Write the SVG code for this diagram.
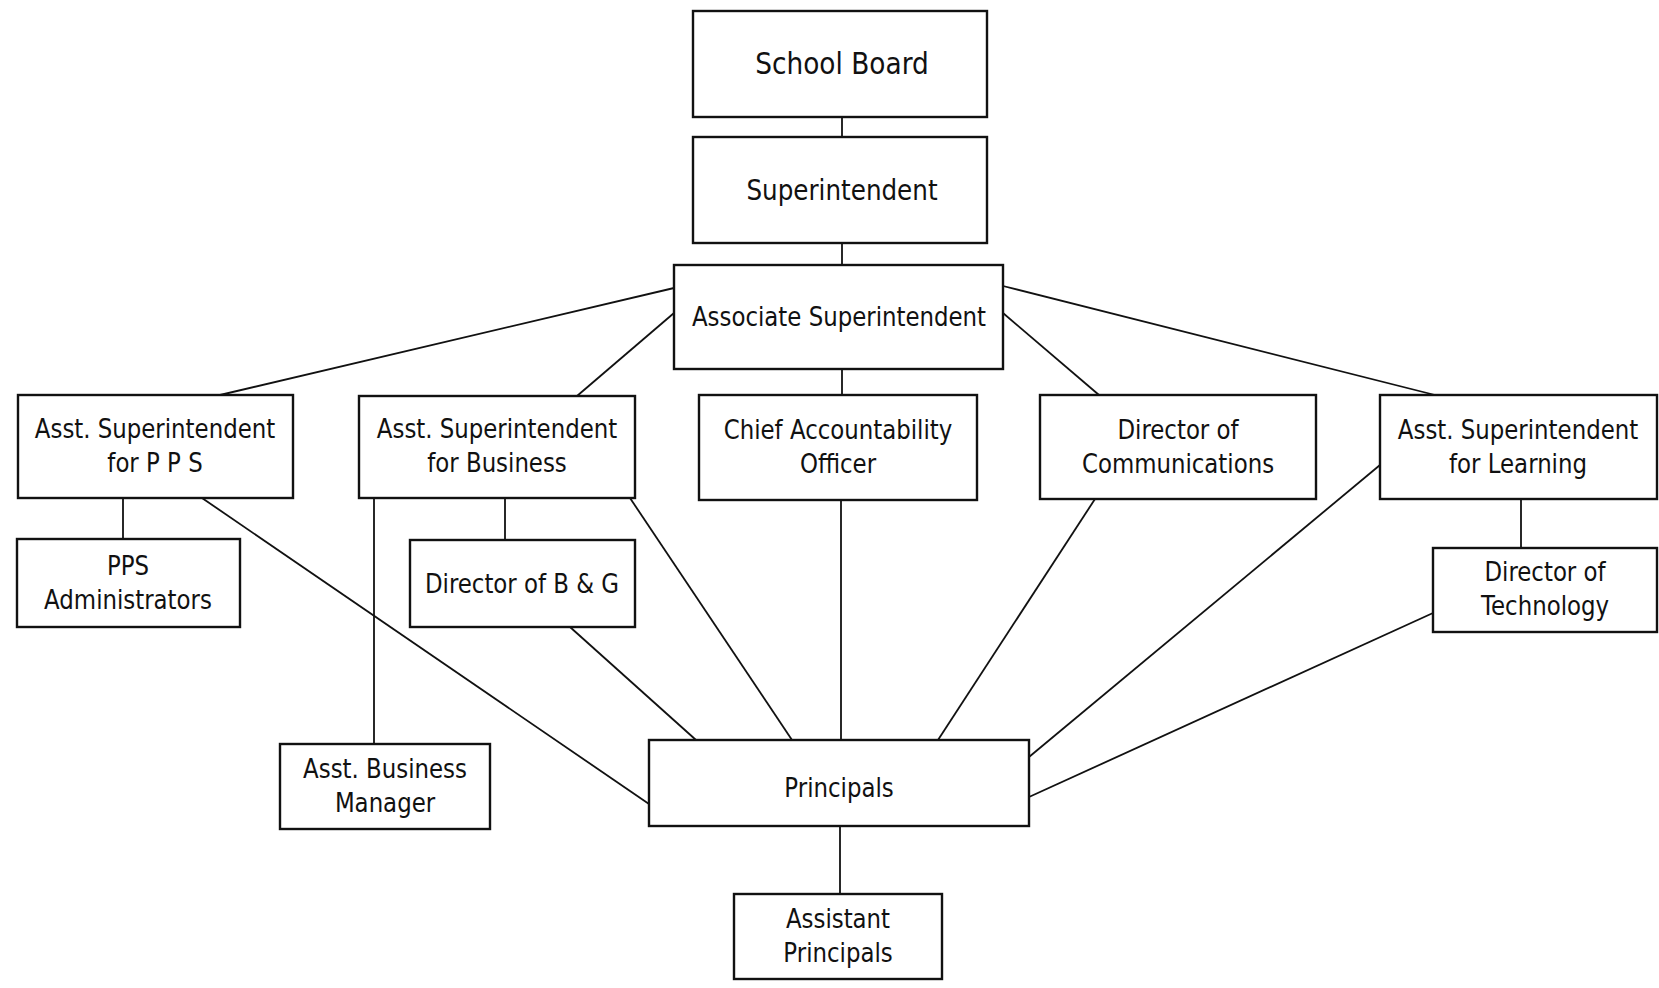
<svg xmlns="http://www.w3.org/2000/svg" width="1659" height="988" viewBox="0 0 1659 988">
<style>
.box{fill:#fff;stroke:#111;stroke-width:2.4}
.t{font-family:"DejaVu Sans","Liberation Sans",sans-serif;font-size:26px;fill:#111;text-anchor:middle}
.ln{stroke:#111;stroke-width:1.8;fill:none}
</style>
<rect width="1659" height="988" fill="#fff"/>
<g id="connectors">
<line class="ln" x1="842" y1="117" x2="842" y2="137"/>
<line class="ln" x1="842" y1="243" x2="842" y2="265"/>
<line class="ln" x1="842" y1="369" x2="842" y2="395"/>
<line class="ln" x1="674" y1="288" x2="220" y2="395"/>
<line class="ln" x1="674" y1="313" x2="577" y2="396"/>
<line class="ln" x1="1003" y1="286" x2="1435" y2="395"/>
<line class="ln" x1="1003" y1="313" x2="1099" y2="395"/>
<line class="ln" x1="123" y1="498" x2="123" y2="539"/>
<line class="ln" x1="505" y1="498" x2="505" y2="540"/>
<line class="ln" x1="374" y1="498" x2="374" y2="744"/>
<line class="ln" x1="1521" y1="499" x2="1521" y2="548"/>
<line class="ln" x1="202" y1="498" x2="649" y2="804"/>
<line class="ln" x1="630" y1="498" x2="792" y2="740"/>
<line class="ln" x1="570" y1="627" x2="696" y2="740"/>
<line class="ln" x1="841" y1="500" x2="841" y2="740"/>
<line class="ln" x1="1095" y1="499" x2="938" y2="740"/>
<line class="ln" x1="1380" y1="465" x2="1029" y2="757"/>
<line class="ln" x1="1433" y1="613" x2="1029" y2="797"/>
<line class="ln" x1="840" y1="826" x2="840" y2="894"/>
</g>
<g id="school-board">
<rect class="box" x="693" y="11" width="294" height="106"/>
<text class="t" style="font-size:30px" transform="matrix(0.88 0 0 1 842 0)" x="0" y="74">School Board</text>
</g>
<g id="superintendent">
<rect class="box" x="693" y="137" width="294" height="106"/>
<text class="t" style="font-size:28px" transform="matrix(0.88 0 0 1 842 0)" x="0" y="200">Superintendent</text>
</g>
<g id="associate-superintendent">
<rect class="box" x="674" y="265" width="329" height="104"/>
<text class="t" transform="matrix(0.88 0 0 1 839 0)" x="0" y="326">Associate Superintendent</text>
</g>
<g id="asst-pps">
<rect class="box" x="18" y="395" width="275" height="103"/>
<text class="t" transform="matrix(0.88 0 0 1 155 0)" x="0" y="438">Asst. Superintendent</text>
<text class="t" transform="matrix(0.88 0 0 1 155 0)" x="0" y="472">for P P S</text>
</g>
<g id="asst-business">
<rect class="box" x="359" y="396" width="276" height="102"/>
<text class="t" transform="matrix(0.88 0 0 1 497 0)" x="0" y="438">Asst. Superintendent</text>
<text class="t" transform="matrix(0.88 0 0 1 497 0)" x="0" y="472">for Business</text>
</g>
<g id="chief-accountability">
<rect class="box" x="699" y="395" width="278" height="105"/>
<text class="t" transform="matrix(0.88 0 0 1 838 0)" x="0" y="439">Chief Accountability</text>
<text class="t" transform="matrix(0.88 0 0 1 838 0)" x="0" y="473">Officer</text>
</g>
<g id="director-communications">
<rect class="box" x="1040" y="395" width="276" height="104"/>
<text class="t" transform="matrix(0.88 0 0 1 1178 0)" x="0" y="439">Director of</text>
<text class="t" transform="matrix(0.88 0 0 1 1178 0)" x="0" y="473">Communications</text>
</g>
<g id="asst-learning">
<rect class="box" x="1380" y="395" width="277" height="104"/>
<text class="t" transform="matrix(0.88 0 0 1 1518 0)" x="0" y="439">Asst. Superintendent</text>
<text class="t" transform="matrix(0.88 0 0 1 1518 0)" x="0" y="473">for Learning</text>
</g>
<g id="pps-administrators">
<rect class="box" x="17" y="539" width="223" height="88"/>
<text class="t" transform="matrix(0.88 0 0 1 128 0)" x="0" y="575">PPS</text>
<text class="t" transform="matrix(0.88 0 0 1 128 0)" x="0" y="609">Administrators</text>
</g>
<g id="director-bg">
<rect class="box" x="410" y="540" width="225" height="87"/>
<text class="t" transform="matrix(0.88 0 0 1 522 0)" x="0" y="593">Director of B &amp; G</text>
</g>
<g id="director-technology">
<rect class="box" x="1433" y="548" width="224" height="84"/>
<text class="t" transform="matrix(0.88 0 0 1 1545 0)" x="0" y="581">Director of</text>
<text class="t" transform="matrix(0.88 0 0 1 1545 0)" x="0" y="615">Technology</text>
</g>
<g id="asst-business-manager">
<rect class="box" x="280" y="744" width="210" height="85"/>
<text class="t" transform="matrix(0.88 0 0 1 385 0)" x="0" y="778">Asst. Business</text>
<text class="t" transform="matrix(0.88 0 0 1 385 0)" x="0" y="812">Manager</text>
</g>
<g id="principals">
<rect class="box" x="649" y="740" width="380" height="86"/>
<text class="t" transform="matrix(0.88 0 0 1 839 0)" x="0" y="797">Principals</text>
</g>
<g id="assistant-principals">
<rect class="box" x="734" y="894" width="208" height="85"/>
<text class="t" transform="matrix(0.88 0 0 1 838 0)" x="0" y="928">Assistant</text>
<text class="t" transform="matrix(0.88 0 0 1 838 0)" x="0" y="962">Principals</text>
</g>
</svg>
